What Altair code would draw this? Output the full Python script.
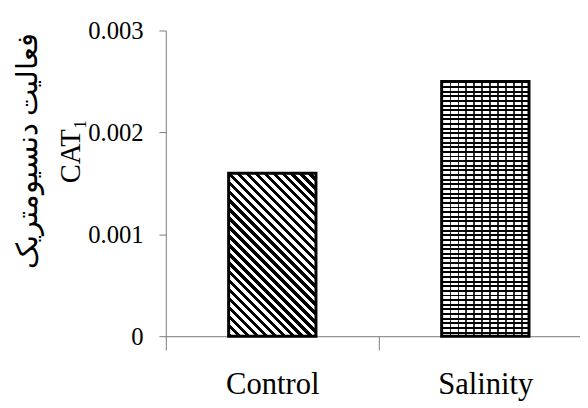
import altair as alt
import pandas as pd

# ---- data ----
categories = ["Control", "Salinity"]
values = [0.0016, 0.0025]
y_ticks = [0, 0.001, 0.002, 0.003]
y_title = ["فعالیت دنسیومتریک", "CAT₁"]

df = pd.DataFrame({"cat": categories, "val": values})

# ---- layout / style ----
PLOT_H = 310
BAND = 216
BAR_FRAC = 0.41
Y_MAX = 0.003
SERIF = "Liberation Serif"
AX_GRAY = "#7a7a7a"


def stripes(x1, y1, x2, y2, n, frac, ink, gap):
    stops = []
    for k in range(n):
        a = round(k / n, 6)
        b = round((k + frac) / n, 6)
        c = round((k + 1) / n, 6)
        stops += [
            {"offset": a, "color": ink},
            {"offset": b, "color": ink},
            {"offset": b, "color": gap},
            {"offset": c, "color": gap},
        ]
    return {"gradient": "linear", "x1": x1, "y1": y1, "x2": x2, "y2": y2, "stops": stops}


def diagonal(W, H, n, frac):
    # 45-degree "\" stripes in pixel space inside a W x H bounding box
    r = H / W
    u = (1 + r) / (1 + r * r)
    v = -u * r
    return stripes(0, 1, round(u, 5), round(1 + v, 5), n, frac, "black", "white")


bar_w = BAND * BAR_FRAC
ctrl_h = values[0] / Y_MAX * PLOT_H
sal_h = values[1] / Y_MAX * PLOT_H

diag_fill = diagonal(bar_w, ctrl_h, 28, 0.5)
vert_fill = stripes(0, 0, 1, 0, 11, 0.2, "#333333", "white")
horiz_fill = stripes(0, 0, 0, 1, int(round(sal_h / 4.7)), 0.42, "black", "rgba(255,255,255,0)")

x_enc = alt.X(
    "cat:N",
    sort=categories,
    scale=alt.Scale(range=[0, 2 * BAND], paddingInner=0, paddingOuter=0),
    axis=alt.Axis(
        title=None,
        tickBand="extent",
        tickSize=14,
        labelAngle=0,
        labelFont=SERIF,
        labelFontSize=31,
        labelColor="black",
        labelPadding=20,
        domainColor=AX_GRAY,
        tickColor=AX_GRAY,
    ),
)
y_enc = alt.Y(
    "val:Q",
    scale=alt.Scale(domain=[0, Y_MAX], nice=False),
    axis=alt.Axis(
        values=y_ticks,
        format="~g",
        grid=False,
        tickSize=7,
        labelFont=SERIF,
        labelFontSize=25,
        labelColor="black",
        labelPadding=16,
        domainColor=AX_GRAY,
        tickColor=AX_GRAY,
        title=y_title,
        titleAngle=-90,
        titleX=-154,
        titleY=122,
        titleAlign="center",
        titleBaseline="top",
        titleFont=SERIF,
        titleFontSize=29,
        titleFontWeight="normal",
        titleLineHeight=44,
        titleColor="black",
    ),
)

base = alt.Chart(df).encode(x=x_enc, y=y_enc)
band = {"band": BAR_FRAC}

ctrl = base.transform_filter(alt.datum.cat == "Control").mark_bar(width=band, fill=diag_fill)
sal_base = base.transform_filter(alt.datum.cat == "Salinity").mark_bar(width=band, fill=vert_fill)
sal_top = base.transform_filter(alt.datum.cat == "Salinity").mark_bar(width=band, fill=horiz_fill)
outline = base.mark_bar(width=band, fill="white", fillOpacity=0, stroke="black", strokeWidth=3)

chart = (
    alt.layer(ctrl, sal_base, sal_top, outline)
    .properties(
        width=420,
        height=PLOT_H,
        autosize=alt.AutoSizeParams(type="none"),
        padding={"left": 160, "top": 20, "right": 0, "bottom": 70},
        background="white",
    )
    .configure_view(strokeWidth=0)
)

chart.save("out.html", embed_options={"renderer": "svg", "actions": False})
